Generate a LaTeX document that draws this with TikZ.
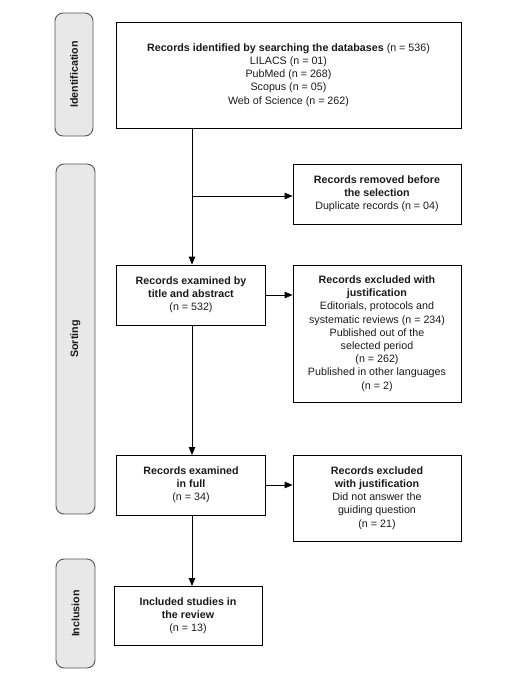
\documentclass[tikz,border=0pt]{standalone}
\usepackage{fontspec}
\setmainfont{Liberation Sans}
\usetikzlibrary{arrows.meta,positioning,calc}
\definecolor{panelfill}{HTML}{E8E8E8}
\definecolor{panelline}{HTML}{555555}
\definecolor{txt}{HTML}{1A1A1A}
\begin{document}
\begin{tikzpicture}[x=1pt,y=-1pt,
  box/.style={draw=black,line width=0.8pt,inner sep=0pt,align=center,text=txt,font=\fontsize{10.7}{13.2}\selectfont},
  panel/.style={draw=panelline,fill=panelfill,line width=0.9pt,rounded corners=8pt},
  plabel/.style={rotate=90,font=\bfseries\fontsize{10.7}{12}\selectfont,text=txt},
  arr/.style={line width=0.8pt,-{Triangle[length=8pt,width=6.5pt]}},
  ln/.style={line width=0.8pt}]
\useasboundingbox (0,0) rectangle (507,674);
% panels
\draw[panel] (55,13) rectangle (93,136);
\node[plabel] (pid) at (74,74.5) {Identification};
\draw[panel] (56,164) rectangle (95,514);
\node[plabel] (psort) at (75.5,339) {Sorting};
\draw[panel] (56,559) rectangle (95,668);
\node[plabel] (pinc) at (75.5,613.5) {Inclusion};
% boxes
\node[box,minimum width=345pt,minimum height=106pt] (ident) at (288.5,75)
 {\textbf{Records identified by searching the databases} (n = 536)\\LILACS (n = 01)\\PubMed (n = 268)\\Scopus (n = 05)\\Web of Science (n = 262)};
\node[box,minimum width=168pt,minimum height=60pt] (removed) at (377,194)
 {\textbf{Records removed before}\\\textbf{the selection}\\Duplicate records (n = 04)};
\node[box,minimum width=149pt,minimum height=60pt] (title) at (191,295)
 {\textbf{Records examined by}\\\textbf{title and abstract}\\(n = 532)};
\node[box,minimum width=168pt,minimum height=137pt] (excl1) at (377,333.5)
 {\textbf{Records excluded with}\\\textbf{justification}\\Editorials, protocols and\\systematic reviews (n = 234)\\Published out of the\\selected period\\(n = 262)\\Published in other languages\\(n = 2)};
\node[box,minimum width=149pt,minimum height=60pt] (full) at (191,485)
 {\textbf{Records examined}\\\textbf{in full}\\(n = 34)};
\node[box,minimum width=168pt,minimum height=86pt] (excl2) at (377,498)
 {\textbf{Records excluded}\\\textbf{with justification}\\Did not answer the\\guiding question\\(n = 21)};
\node[box,minimum width=148pt,minimum height=59pt] (incl) at (188,615.5)
 {\textbf{Included studies in}\\\textbf{the review}\\(n = 13)};
% connectors
\coordinate (top) at (192,128);
\coordinate (branch) at (192,196);
\draw[arr] (top) -- (top |- title.north);
\draw[arr] (branch) -- (branch -| removed.west);
\draw[arr] (title.east) -- (excl1.west |- title.east);
\draw[arr] (192,325) -- (192,455);
\draw[arr] (full.east) -- (excl2.west |- full.east);
\draw[arr] (192,515) -- (192,586);
\end{tikzpicture}
\end{document}
